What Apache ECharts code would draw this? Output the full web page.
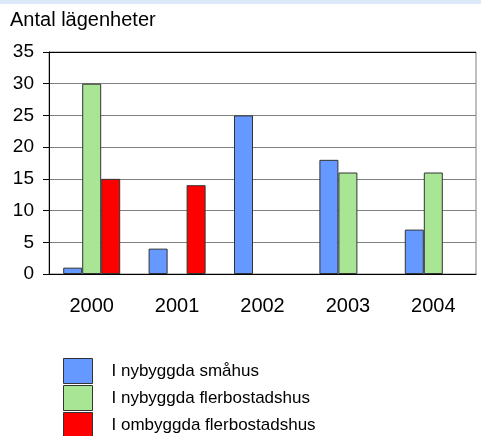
<!DOCTYPE html>
<html>
<head>
<meta charset="utf-8">
<script src="https://cdn.jsdelivr.net/npm/echarts@6/dist/echarts.min.js"></script>
<style>
html,body{margin:0;padding:0;background:#fff;}
#chart{width:481px;height:436px;}
</style>
</head>
<body>
<div id="chart"></div>
<script>
var categories = ['2000', '2001', '2002', '2003', '2004'];
var seriesNames = ['I nybyggda småhus', 'I nybyggda flerbostadshus', 'I ombyggda flerbostadshus'];
var smahus = [1, 4, 25, 18, 7];
var nyFlerbostad = [30, null, null, 16, 16];
var omFlerbostad = [15, 14, null, null, null];
var yTitle = 'Antal lägenheter';
var yMin = 0, yMax = 35, yStep = 5;

var colors = ['#6699ff', '#a8e594', '#ff0000'];
var font = 'Arial, "Liberation Sans", sans-serif';

var chart = echarts.init(document.getElementById('chart'), null, {renderer: 'canvas'});
function mkSeries(name, data, color) {
  return {
    name: name, type: 'bar', data: data, barWidth: 19, barGap: '0%',
    itemStyle: {color: color, borderColor: '#333333', borderWidth: 1},
    animation: false
  };
}
chart.setOption({
  animation: false,
  backgroundColor: '#ffffff',
  textStyle: {fontFamily: font},
  graphic: [{type: 'rect', left: 0, top: 0, shape: {width: 481, height: 4}, style: {fill: '#dde9f8'}, z: -1}],
  title: {text: yTitle, left: 10, top: 10, padding: 0,
    textStyle: {fontFamily: font, fontSize: 20, fontWeight: 'normal', color: '#000'}},
  grid: {left: 49, right: 5, top: 52, bottom: 162, show: true, borderColor: '#808080', borderWidth: 1, backgroundColor: '#fff'},
  legend: {
    orient: 'vertical', left: 63, top: 358, height: 120, width: 400, padding: 0, itemGap: 1,
    itemWidth: 29, itemHeight: 25, icon: 'rect',
    data: seriesNames,
    itemStyle: {borderColor: '#333333', borderWidth: 1},
    textStyle: {fontFamily: font, fontSize: 17, color: '#000', padding: [0, 0, 0, 14]}
  },
  xAxis: {
    type: 'category', data: categories, boundaryGap: true,
    axisLine: {show: true, lineStyle: {color: '#000', width: 1}},
    axisTick: {show: false},
    axisLabel: {fontFamily: font, fontSize: 20, color: '#000', margin: 22}
  },
  yAxis: {
    type: 'value', min: yMin, max: yMax, interval: yStep,
    axisLine: {show: true, lineStyle: {color: '#000', width: 1}},
    axisTick: {show: true, length: 6, lineStyle: {color: '#000'}},
    axisLabel: {fontFamily: font, fontSize: 19, color: '#000', margin: 15},
    splitLine: {show: true, lineStyle: {color: ['#808080','#808080','#808080','#808080','#808080','#808080','#808080','#000000'], width: 1}}
  },
  series: [
    mkSeries(seriesNames[0], smahus, colors[0]),
    mkSeries(seriesNames[1], nyFlerbostad, colors[1]),
    mkSeries(seriesNames[2], omFlerbostad, colors[2])
  ]
});
</script>
</body>
</html>
